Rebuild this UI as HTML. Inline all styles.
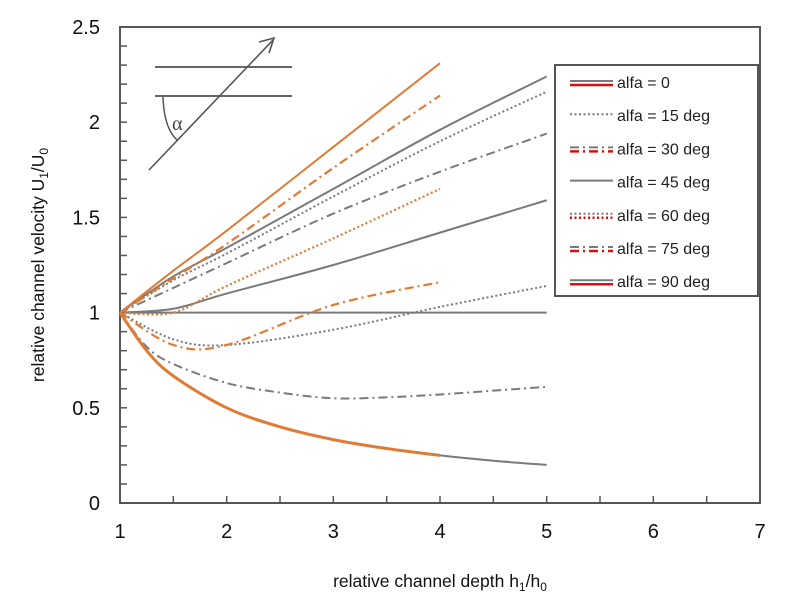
<!DOCTYPE html>
<html><head><meta charset="utf-8"><style>
body{margin:0;background:#fff;width:787px;height:600px;overflow:hidden;font-family:"Liberation Sans",Arial,sans-serif}
svg{display:block}
</style></head><body>
<svg id="chart" width="787" height="600" xmlns="http://www.w3.org/2000/svg">
<g id="axes"></g>
<g id="inset">
 <line x1="155" y1="67" x2="292" y2="67" stroke="#666" stroke-width="2"/>
 <line x1="155" y1="96" x2="292" y2="96" stroke="#666" stroke-width="2"/>
 <line x1="149" y1="170" x2="273" y2="40" stroke="#555" stroke-width="1.6"/>
 <polyline points="259,42 274,38 269,53" fill="none" stroke="#555" stroke-width="1.6"/>
 <path d="M163,97 Q164,128 177,140" fill="none" stroke="#555" stroke-width="1.5"/>
 <text x="172" y="130" font-size="20" fill="#444" font-family="Liberation Serif, serif">α</text>
</g>
<g id="series"></g>
<g id="legend"></g>
</svg>
<script>
const xTicks=[1,2,3,4,5,6,7];
const yTicks=[0,0.5,1,1.5,2,2.5];
const xsGray=[1,1.5,2,3,4,5];
const xsOrange=[1,1.5,2,3,4];
const xsLow=[1,1.25,1.5,2,2.5,3,3.5,4,4.5,5];
const xsLowO=[1,1.25,1.5,2,2.5,3,3.5,4];
const g0=[1,1,1,1,1,1];
const gSolidTop=[1,1.19,1.34,1.65,1.96,2.24];
const gDotTop=[1,1.17,1.31,1.61,1.9,2.16];
const gDashTop=[1,1.13,1.26,1.52,1.74,1.94];
const gSolidMid=[1,1.02,1.1,1.25,1.42,1.59];
const gDotLow=[1,0.86,0.83,0.91,1.03,1.14];
const gDashLow=[1,0.82,0.73,0.63,0.58,0.55,0.555,0.57,0.59,0.61];
const gSolidLow=[1,0.8,0.667,0.5,0.4,0.333,0.286,0.25,0.222,0.2];
const oSolidTop=[1,1.22,1.43,1.87,2.31];
const oDashTop=[1,1.18,1.36,1.76,2.14];
const oDotMid=[1,1.0,1.14,1.39,1.65];
const oDashLow=[1,0.83,0.83,1.04,1.16];
const oSolidLow=[1,0.8,0.667,0.5,0.4,0.333,0.286,0.25];
const legendLabels=["alfa = 0","alfa = 15 deg","alfa = 30 deg","alfa = 45 deg","alfa = 60 deg","alfa = 75 deg","alfa = 90 deg"];

const NS="http://www.w3.org/2000/svg";
const X0=120,X1=760,Y0=503,Y1=27;
const sx=v=>X0+(v-1)/6*(X1-X0);
const sy=v=>Y0-v/2.5*(Y0-Y1);
function mk(tag,attrs,parent){const e=document.createElementNS(NS,tag);for(const k in attrs)e.setAttribute(k,attrs[k]);parent.appendChild(e);return e;}
const ax=document.getElementById('axes');
const frame=mk('rect',{x:X0,y:Y1,width:X1-X0,height:Y0-Y1,fill:'none',stroke:'#555','stroke-width':2},ax);


for(let v=1.5;v<7;v+=0.5){const t=mk('line',{x1:sx(v),x2:sx(v),y1:Y0,y2:Y0-7,stroke:'#555','stroke-width':1.5},ax);

}
for(let i=1;i<25;i++){const v=i/10;const t=mk('line',{x1:X0,x2:X0+7,y1:sy(v),y2:sy(v),stroke:'#555','stroke-width':1.5},ax);

}
xTicks.forEach(v=>{const t=mk('text',{x:sx(v),y:538,'font-size':20,'text-anchor':'middle',fill:'#111'},ax);t.textContent=v;

});
yTicks.forEach(v=>{const t=mk('text',{x:100,y:sy(v)+7,'font-size':20,'text-anchor':'end',fill:'#111'},ax);t.textContent=v;

});
const xl=mk('text',{x:440,y:587,'font-size':17.5,'text-anchor':'middle',fill:'#111'},ax);
xl.innerHTML='relative channel depth h<tspan font-size="12" dy="4">1</tspan><tspan dy="-4">/h</tspan><tspan font-size="12" dy="4">0</tspan>';


const yl=mk('text',{x:0,y:0,'font-size':17.5,'text-anchor':'middle',fill:'#111',transform:'translate(44,265) rotate(-90)'},ax);
yl.innerHTML='relative channel velocity U<tspan font-size="12" dy="4">1</tspan><tspan dy="-4">/U</tspan><tspan font-size="12" dy="4">0</tspan>';



function pathD(xs,ys){const p=xs.map((x,i)=>[sx(x),sy(ys[i])]);let d='M'+p[0][0]+','+p[0][1];
for(let i=0;i<p.length-1;i++){const a=p[i-1]||p[i],b=p[i],c=p[i+1],e=p[i+2]||c;
d+=' C'+(b[0]+(c[0]-a[0])/6)+','+(b[1]+(c[1]-a[1])/6)+' '+(c[0]-(e[0]-b[0])/6)+','+(c[1]-(e[1]-b[1])/6)+' '+c[0]+','+c[1];}return d;}
const GR='#7a7a7a',OR='#e07b35';
const styles={solid:'',dot:'2,2.5',dash:'9,4,2,4'};
const S=document.getElementById('series');
const series=[
['alfa-0',xsGray,g0,GR,'solid',2],
['alfa-15-gray-upper',xsGray,gDotTop,GR,'dot',2],
['alfa-90-gray-upper',xsGray,gSolidTop,GR,'solid',2],
['alfa-30-gray-upper',xsGray,gDashTop,GR,'dash',2],
['alfa-45-gray',xsGray,gSolidMid,GR,'solid',2],
['alfa-15-gray-lower',xsGray,gDotLow,GR,'dot',2],
['alfa-30-gray-lower',xsLow,gDashLow,GR,'dash',2],
['alfa-90-gray-lower',xsLow,gSolidLow,GR,'solid',2],
['alfa-90-orange-upper',xsOrange,oSolidTop,OR,'solid',2],
['alfa-75-orange-upper',xsOrange,oDashTop,OR,'dash',2.2],
['alfa-60-orange',xsOrange,oDotMid,OR,'dot',2.2],
['alfa-75-orange-lower',xsOrange,oDashLow,OR,'dash',2.2],
['alfa-90-orange-lower',xsLowO,oSolidLow,OR,'solid',3]];
series.forEach(s=>{const p=mk('path',{d:pathD(s[1],s[2]),fill:'none',stroke:s[3],'stroke-width':s[5],'stroke-dasharray':styles[s[4]]},S);

});

const L=document.getElementById('legend');
const lb=mk('rect',{x:555,y:65,width:203,height:231,fill:'#fff',stroke:'#555','stroke-width':2},L);


const lst=[['solid',true],['dot',false],['dash',true],['solid',false],['dot',true],['dash',true],['solid',true]];
legendLabels.forEach((lab,i)=>{const y=82+i*33.2;
const g=mk('g',{},L);


mk('line',{x1:570,x2:613,y1:y-1,y2:y-1,stroke:GR,'stroke-width':2,'stroke-dasharray':styles[lst[i][0]]},g);
if(lst[i][1])mk('line',{x1:570,x2:613,y1:y+3,y2:y+3,stroke:'#d81010','stroke-width':2.5,'stroke-dasharray':styles[lst[i][0]]},g);
const t=mk('text',{x:617,y:y+6,'font-size':16,fill:'#222'},g);t.textContent=lab;});
</script>
</body></html>
